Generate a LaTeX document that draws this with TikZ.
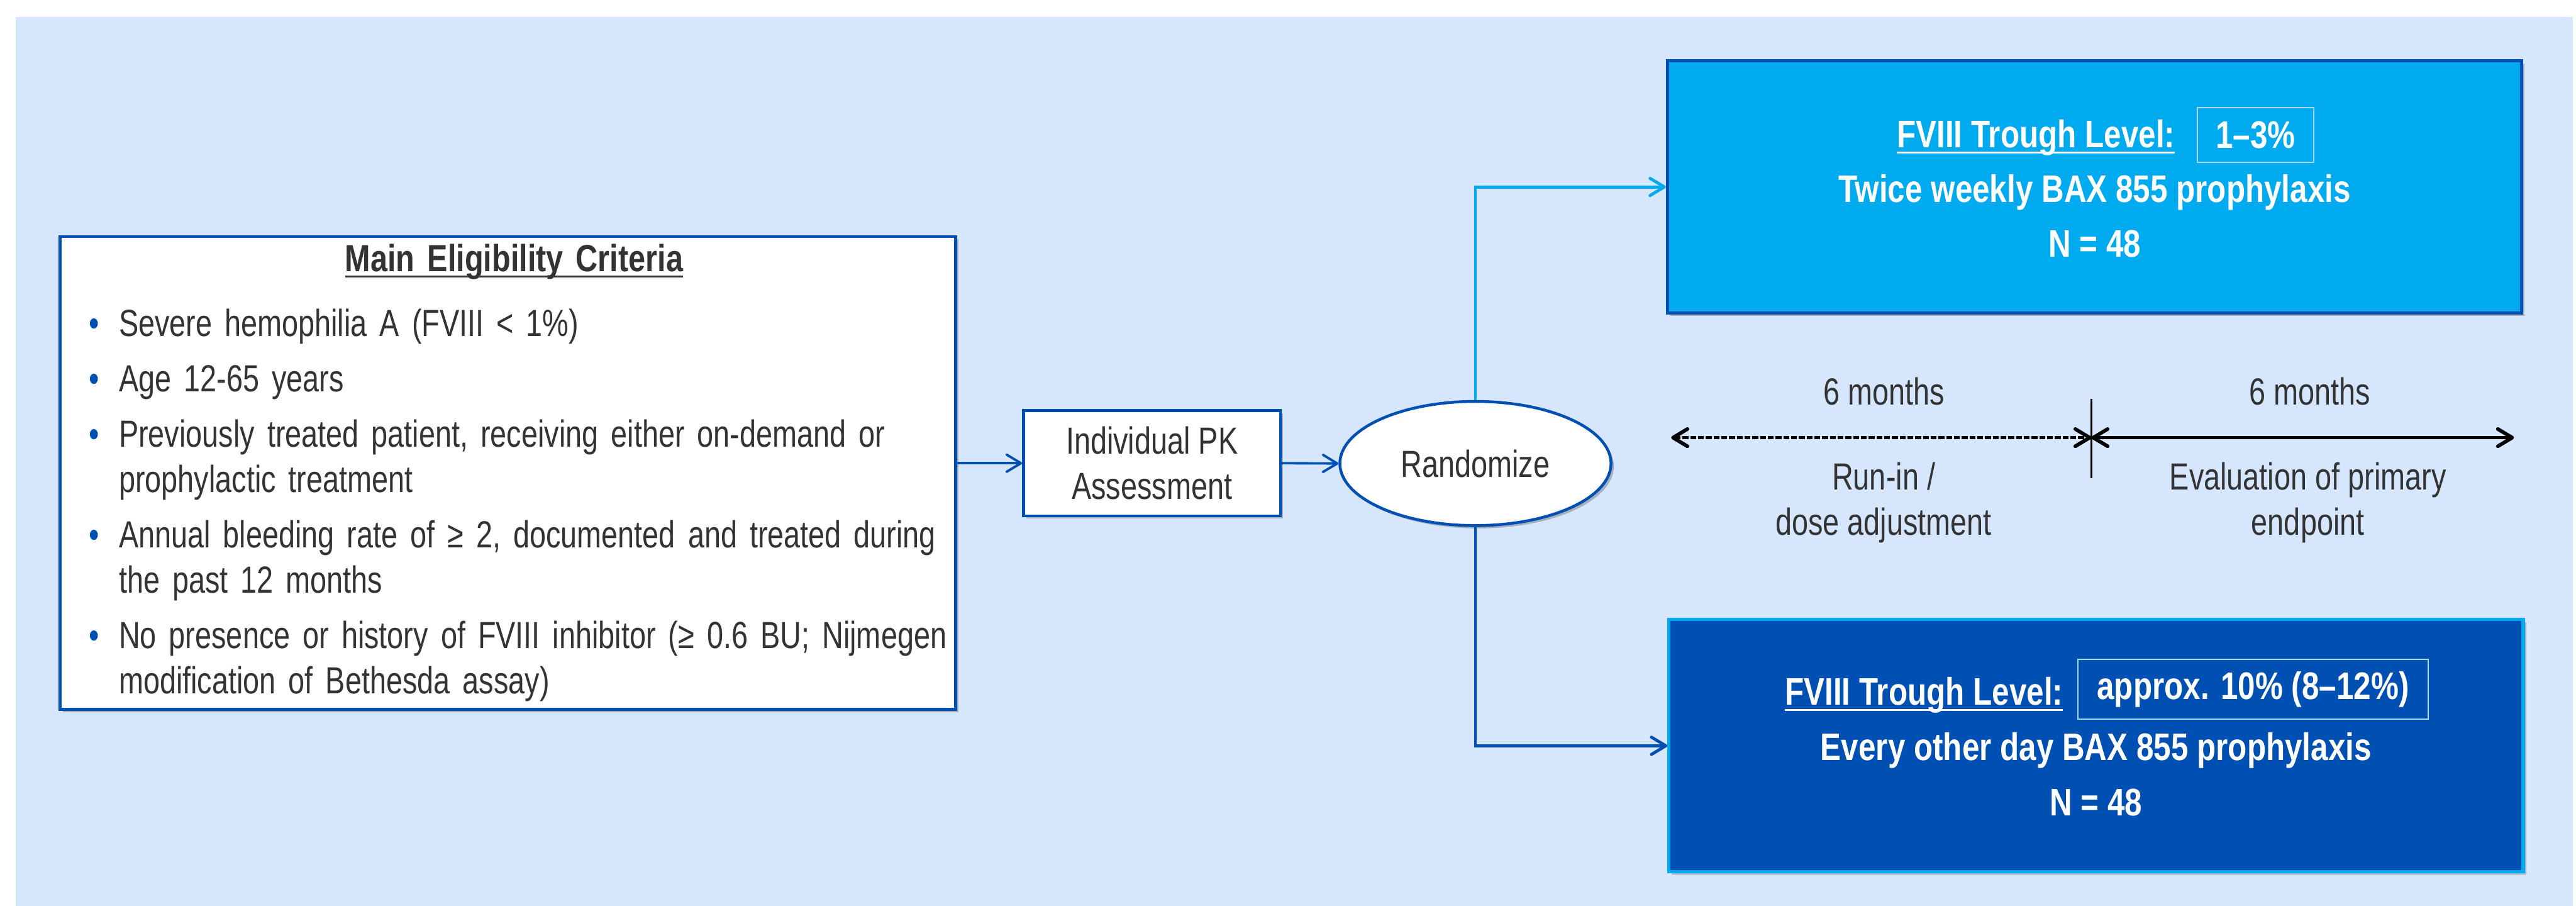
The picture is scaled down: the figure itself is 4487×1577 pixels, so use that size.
\documentclass[tikz,border=0pt]{standalone}
\usepackage{fontspec}
\setmainfont{Liberation Sans}[UprightFeatures={FakeStretch=0.78},BoldFeatures={FakeStretch=0.81}]
\usepackage{tikz}
\usetikzlibrary{arrows.meta,shapes.geometric,shadows}
\usepackage{xcolor}
\definecolor{TrialBack}{HTML}{D5E6FD}
\definecolor{TrialBlue}{HTML}{0050B4}
\definecolor{TrialCyan}{HTML}{00AAEE}
\definecolor{TrialText}{HTML}{333333}
\definecolor{TrialFrame}{HTML}{A8DCF8}
\hyphenpenalty=10000
\exhyphenpenalty=10000

% thick underline
\newcommand{\trialul}[1]{\leavevmode\setbox0=\hbox{#1}\rlap{\rule[-0.1cm]{\wd0}{0.033cm}}\box0}
% one bullet of the criteria list
\newcommand{\critem}[1]{\par\vspace{4.9pt}\hangindent=0.925cm\hangafter=1
  \noindent\makebox[0.925cm][l]{\hspace{0.4cm}\textcolor{TrialBlue}{\textbullet}}#1\par}

\begin{document}
\begin{tikzpicture}[x=0.01cm,y=-0.01cm,
  font=\fontsize{18.7}{22.5}\selectfont,text=TrialText,
  >={Straight Barb[length=0.25cm,width=0.3cm,round]},
  boxshadow/.style={drop shadow={shadow xshift=0.05cm,shadow yshift=-0.05cm,opacity=0.35,fill=black!70}},
  whitebox/.style={draw=TrialBlue,line width=1.4pt,fill=white,boxshadow,inner sep=0pt},
  armbox/.style={line width=1.6pt,boxshadow,minimum width=14.87cm,minimum height=4.39cm},
  armtext/.style={text=white,font=\fontsize{19}{22.5}\selectfont\bfseries,inner sep=0pt,anchor=base},
  valbox/.style={armtext,anchor=center,draw=TrialFrame,line width=0.6pt},
  flow/.style={->,line width=1.2pt,TrialBlue},
  spanarrow/.style={<->,line width=1.8pt,black}]
  \useasboundingbox (0,0) rectangle (4487,1577);
  \fill[white] (0,0) rectangle (4487,1577);
  \fill[TrialBack] (27,30) rectangle (4482,1577);

  % eligibility
  \node[whitebox,minimum width=15.59cm,minimum height=8.23cm,text width=15.39cm]
    (crit) at (884.5,823.5) {\raggedright\vspace*{0.16cm}
    {\centering\bfseries\trialul{Main Eligibility Criteria}\par}
    \critem{Severe hemophilia A (FVIII < 1\%)}
    \critem{Age 12-65 years}
    \critem{\mbox{Previously treated patient, receiving either on-demand or}\newline prophylactic treatment}
    \critem{\mbox{Annual bleeding rate of ≥ 2, documented and treated during}\newline the past 12 months}
    \critem{\mbox{No presence or history of FVIII inhibitor (≥ 0.6 BU; Nijmegen}\newline modification of Bethesda assay)}};

  \node[whitebox,minimum width=4.47cm,minimum height=1.83cm,align=center]
    (pk) at (2006.5,806.5) {Individual PK\\Assessment};
  \node[whitebox,ellipse,minimum width=4.72cm,minimum height=2.16cm]
    (rand) at (2570,807) {Randomize};

  % arms
  \node[armbox,draw=TrialBlue,fill=TrialCyan] (armA) at (3648.5,325.5) {};
  \node[armtext,anchor=base east] (levA) at (3789,257) {\trialul{FVIII Trough Level:}};
  \node[valbox,minimum width=2.02cm,minimum height=0.96cm] (valA) at (3929,235) {1–3\%};
  \node[armtext] (doseA) at (3648.5,352) {Twice weekly BAX 855 prophylaxis};
  \node[armtext] (nA) at (3648.5,447) {N = 48};

  \node[armbox,draw=TrialCyan,fill=TrialBlue] (armB) at (3651,1298.5) {};
  \node[armtext,anchor=base east] (levB) at (3594,1228) {\trialul{FVIII Trough Level:}};
  \node[valbox,minimum width=6.09cm,minimum height=1.04cm] (valB) at (3924.5,1200) {approx. 10\% (8–12\%)};
  \node[armtext] (doseB) at (3651,1324) {Every other day BAX 855 prophylaxis};
  \node[armtext] (nB) at (3651,1420) {N = 48};

  % timeline
  \node[anchor=base] (runT) at (3282,705) {6 months};
  \node[anchor=base] (evalT) at (4023,705) {6 months};
  \node[align=center] (runL) at (3281,875) {Run-in /\\dose adjustment};
  \node[align=center] (evalL) at (4020,875) {Evaluation of primary\\endpoint};
  \coordinate (tl) at (2911,762);
  \coordinate (tm) at (3643,762);
  \coordinate (tr) at (4379,762);
  \coordinate (tickT) at (3643,695);
  \coordinate (tickB) at (3643,833);
  \draw[spanarrow,dash pattern=on 0.1cm off 0.035cm] (tl) -- (tm);
  \draw[spanarrow] (tm) -- (tr);
  \draw[line width=1pt] (tickT) -- (tickB);

  % connectors
  \draw[flow] (pk.west -| crit.east) -- (pk.west);
  \draw[flow] (pk.east) -- (rand.west);
  \draw[flow,TrialCyan,line width=1.5pt] (rand.north) |- (armA.west);
  \draw[flow,line width=1.5pt] (rand.south) |- (armB.west);
\end{tikzpicture}
\end{document}
